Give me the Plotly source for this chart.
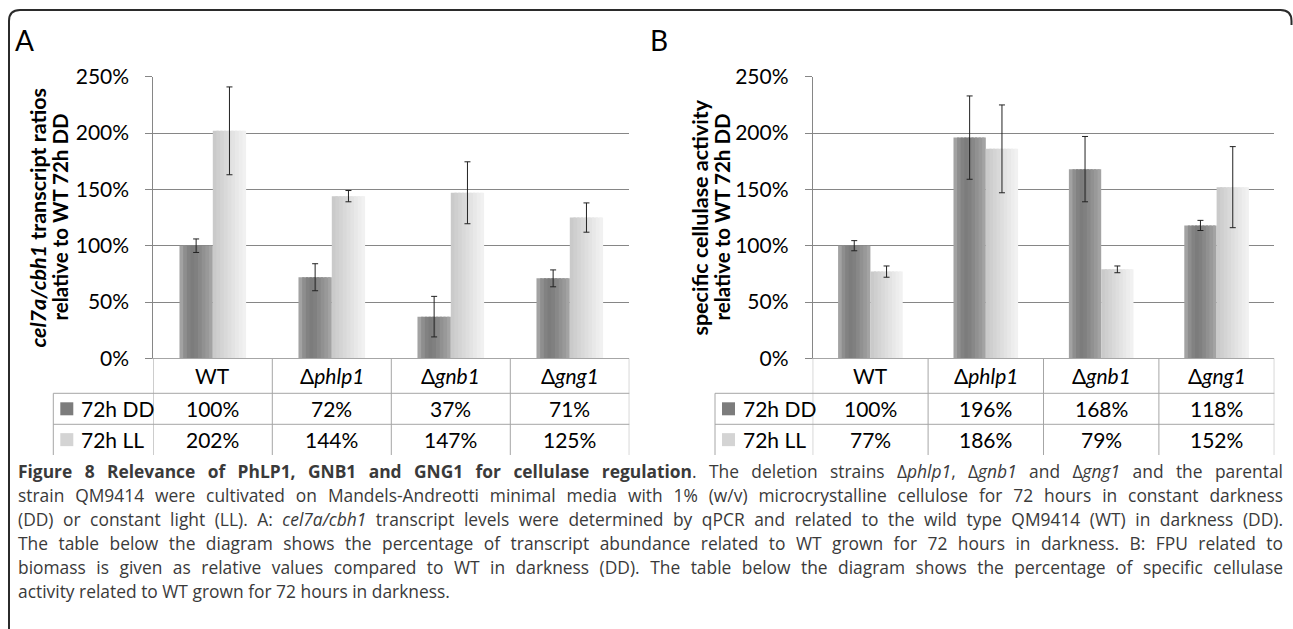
import json
import plotly.graph_objects as go

W, H = 1293, 629

# ---------------- data ----------------
categories = ["WT", "Δphlp1", "Δgnb1", "Δgng1"]
cat_labels = ["WT", "Δ<i>phlp1</i>", "Δ<i>gnb1</i>", "Δ<i>gng1</i>"]
series_names = ["72h DD", "72h LL"]

a_dd = [100, 72, 37, 71]
a_ll = [202, 144, 147, 125]
a_dd_err = [6, 12, 18, 7.5]
a_ll_err = [39, 5, 27.5, 13]

b_dd = [100, 196, 168, 118]
b_ll = [77, 186, 79, 152]
b_dd_err = [4.5, 37, 29, 4.5]
b_ll_err = [5, 39, 3, 36]

y_ticks = [0, 50, 100, 150, 200, 250]
y_tick_text = ["0%", "50%", "100%", "150%", "200%", "250%"]

caption_lines = [
    "<b>Figure 8 Relevance of PhLP1, GNB1 and GNG1 for cellulase regulation</b>. The deletion strains Δ<i>phlp1</i>, Δ<i>gnb1</i> and Δ<i>gng1</i> and the parental",
    "strain QM9414 were cultivated on Mandels-Andreotti minimal media with 1% (w/v) microcrystalline cellulose for 72 hours in constant darkness",
    "(DD) or constant light (LL). A: <i>cel7a/cbh1</i> transcript levels were determined by qPCR and related to the wild type QM9414 (WT) in darkness (DD).",
    "The table below the diagram shows the percentage of transcript abundance related to WT grown for 72 hours in darkness. B: FPU related to",
    "biomass is given as relative values compared to WT in darkness (DD). The table below the diagram shows the percentage of specific cellulase",
    "activity related to WT grown for 72 hours in darkness.",
]
justified = [True, True, True, True, True, False]

# ---------------- style ----------------
FONT = "Lato"
CAP_FONT = "Open Sans"
GRID = "#868686"
TABLE = "#a6a6a6"
DD_STRIPS = ["#a2a2a2", "#8e8e8e", "#828282", "#7c7c7c", "#808080", "#888888", "#919191", "#999999", "#a3a3a3"]
LL_STRIPS = ["#cacaca", "#cfcfcf", "#d4d4d4", "#d9d9d9", "#dedede", "#e3e3e3", "#e8e8e8", "#ededed", "#f1f1f1"]
BAR_W = 0.28


def px(x):
    return x / W


def py(y):
    return 1 - y / H


# pixel layout
Y_TOP, Y_ZERO = 76.8, 358.3
ROW1, ROW2, TBL_BOT = 393.3, 424.3, 455.0
CAP_LEFT, CAP_RIGHT = 18, 1283
panels = [
    dict(left=153.3, right=629.3, leg=53.3, dd=a_dd, ll=a_ll, dde=a_dd_err, lle=a_ll_err,
         title1="<b><i>cel7a/cbh1</i> transcript ratios</b>", title2="<b>relative to WT 72h DD</b>",
         tx1=38, tx2=60, letter="A", lx=24),
    dict(left=812.7, right=1274.3, leg=715.0, dd=b_dd, ll=b_ll, dde=b_dd_err, lle=b_ll_err,
         title1="<b>specific cellulase activity</b>", title2="<b>relative to WT 72h DD</b>",
         tx1=700, tx2=722, letter="B", lx=659),
]

fig = go.Figure()
shapes, annotations = [], []
xidx = list(range(len(categories)))

for p, pan in enumerate(panels):
    xa = "x" if p == 0 else "x2"
    ya = "y" if p == 0 else "y2"
    n = len(DD_STRIPS)
    sw = BAR_W / n
    for vals, strips, base in ((pan["dd"], DD_STRIPS, -BAR_W), (pan["ll"], LL_STRIPS, 0.0)):
        for i, c in enumerate(strips):
            w = sw * 1.6 if i < n - 1 else sw
            fig.add_trace(go.Bar(x=xidx, y=vals, width=w, offset=base + i * sw,
                                 marker=dict(color=c, line=dict(width=0)),
                                 xaxis=xa, yaxis=ya, showlegend=False, hoverinfo="skip"))
    for vals, errs, base in ((pan["dd"], pan["dde"], -BAR_W), (pan["ll"], pan["lle"], 0.0)):
        fig.add_trace(go.Bar(x=xidx, y=vals, width=BAR_W, offset=base,
                             marker=dict(color="rgba(0,0,0,0)", line=dict(width=0)),
                             error_y=dict(type="data", array=errs, visible=True,
                                          color="#222222", thickness=1, width=3),
                             xaxis=xa, yaxis=ya, showlegend=False, hoverinfo="skip"))

    # table lines
    for k in range(len(categories) + 1):
        shapes.append(dict(type="line", xref=xa, yref="paper", x0=k - 0.5, x1=k - 0.5,
                           y0=py(Y_ZERO), y1=py(TBL_BOT), line=dict(color=TABLE, width=1)))
    for yy in (ROW1, ROW2):
        shapes.append(dict(type="line", xref="paper", yref="paper", x0=px(pan["leg"]), x1=px(pan["right"]),
                           y0=py(yy), y1=py(yy), line=dict(color=TABLE, width=1)))
    shapes.append(dict(type="line", xref="paper", yref="paper", x0=px(pan["leg"]), x1=px(pan["leg"]),
                       y0=py(ROW1), y1=py(TBL_BOT), line=dict(color=TABLE, width=1)))

    # category row
    for i, lab in enumerate(cat_labels):
        annotations.append(dict(x=i, y=py((Y_ZERO + ROW1) / 2), xref=xa, yref="paper", text=lab,
                                showarrow=False, font=dict(family=FONT, size=21, color="#000"),
                                xanchor="center", yanchor="middle"))
    # value rows
    for r, (vals, yc) in enumerate(((pan["dd"], (ROW1 + ROW2) / 2), (pan["ll"], (ROW2 + TBL_BOT) / 2))):
        for i, v in enumerate(vals):
            annotations.append(dict(x=i, y=py(yc), xref=xa, yref="paper", text=f"{v}%",
                                    showarrow=False, font=dict(family=FONT, size=21, color="#000"),
                                    xanchor="center", yanchor="middle"))
        sx = pan["leg"] + 7
        shapes.append(dict(type="rect", xref="paper", yref="paper", x0=px(sx), x1=px(sx + 13),
                           y0=py(yc - 6.5), y1=py(yc + 6.5), line=dict(width=0),
                           fillcolor=DD_STRIPS[3] if r == 0 else LL_STRIPS[2]))
        annotations.append(dict(x=px(sx + 19), y=py(yc), xref="paper", yref="paper",
                                text=series_names[r], showarrow=False,
                                font=dict(family=FONT, size=21, color="#000"),
                                xanchor="left", yanchor="middle"))

    # axis titles
    for t, tx, fs in ((pan["title1"], pan["tx1"], 21.5), (pan["title2"], pan["tx2"], 20.5)):
        annotations.append(dict(x=px(tx), y=py((Y_TOP + Y_ZERO) / 2), xref="paper", yref="paper",
                                text=t, textangle=-90, showarrow=False,
                                font=dict(family=FONT, size=fs, color="#000"),
                                xanchor="center", yanchor="middle"))
    # panel letter
    annotations.append(dict(x=px(pan["lx"]), y=py(40), xref="paper", yref="paper", text=pan["letter"],
                            showarrow=False, font=dict(family=FONT, size=28, color="#000"),
                            xanchor="center", yanchor="middle"))

# caption
justify_idx = []
for j, line in enumerate(caption_lines):
    if justified[j]:
        justify_idx.append(len(annotations))
    annotations.append(dict(x=px(CAP_LEFT), y=py(471 + j * 24), xref="paper", yref="paper", text=line,
                            showarrow=False, align="left", borderpad=0, borderwidth=0,
                            font=dict(family=CAP_FONT, size=17.4, color="#3a3a3a"),
                            xanchor="left", yanchor="middle"))

# outer rounded border
r = 11
bx0, by0, bx1 = 9, 10, 1291.5
path = (f"M {px(bx0)},{py(H + 5)} L {px(bx0)},{py(by0 + r)} "
        f"Q {px(bx0)},{py(by0)} {px(bx0 + r)},{py(by0)} "
        f"L {px(bx1 - r)},{py(by0)} Q {px(bx1)},{py(by0)} {px(bx1)},{py(by0 + r)} "
        f"L {px(bx1)},{py(by0 + r + 4)}")
shapes.append(dict(type="path", xref="paper", yref="paper", path=path,
                   line=dict(color="#2b2b2b", width=2)))

axis_common = dict(range=[-0.5, 3.5], showticklabels=False, showgrid=False, zeroline=False,
                   showline=True, linecolor=TABLE, linewidth=1, ticks="", fixedrange=True,
                   automargin=False)
yaxis_common = dict(range=[0, 250], tickmode="array", tickvals=y_ticks, ticktext=y_tick_text,
                    showgrid=True, gridcolor=GRID,
                    gridwidth=1, zeroline=False, showline=True, linecolor=GRID, linewidth=1,
                    ticks="outside", ticklen=7, tickcolor=GRID, ticklabelstandoff=12,
                    tickfont=dict(family=FONT, size=21, color="#000"), fixedrange=True,
                    automargin=False)

fig.update_layout(
    template="none",
    width=W, height=H, margin=dict(l=0, r=0, t=0, b=0, pad=0, autoexpand=False),
    paper_bgcolor="white", plot_bgcolor="white", barmode="overlay",
    xaxis=dict(domain=[px(panels[0]["left"]), px(panels[0]["right"])], anchor="y", **axis_common),
    yaxis=dict(domain=[py(Y_ZERO), py(Y_TOP)], anchor="x", **yaxis_common),
    xaxis2=dict(domain=[px(panels[1]["left"]), px(panels[1]["right"])], anchor="y2", **axis_common),
    yaxis2=dict(domain=[py(Y_ZERO), py(Y_TOP)], anchor="x2", **yaxis_common),
    shapes=shapes, annotations=annotations, showlegend=False,
)

# justify the caption lines (like the printed caption) by widening word spacing
js = """
document.body.style.margin='0';
document.body.style.overflow='hidden';
var gd = document.getElementById('{plot_id}');
var idx = __IDX__;
var target = __TARGET__;
idx.forEach(function(i){
  var g = gd.querySelector('g.annotation[data-index="' + i + '"]');
  if(!g) return;
  var t = g.querySelector('text.annotation-text');
  if(!t) return;
  var w = t.getBBox().width;
  var n = (t.textContent.match(/[ \\u00a0]/g) || []).length;
  if(n > 0 && target > w){ t.style.wordSpacing = ((target - w) / n) + 'px'; }
});
""".replace("__IDX__", json.dumps(justify_idx)).replace("__TARGET__", str(CAP_RIGHT - CAP_LEFT))

fig.write_html("out.html", config={"displayModeBar": False}, post_script=js)
